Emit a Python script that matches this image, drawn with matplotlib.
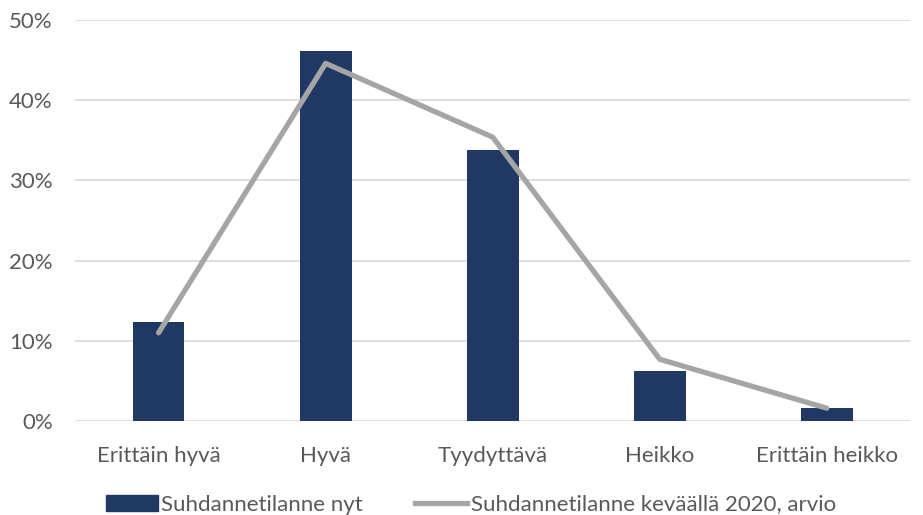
import matplotlib.pyplot as plt
from matplotlib.ticker import PercentFormatter
from matplotlib.lines import Line2D
from matplotlib.patches import Patch

plt.rcParams['font.family'] = ['Lato', 'DejaVu Sans']

kategoriat = ["Erittäin hyvä", "Hyvä", "Tyydyttävä", "Heikko", "Erittäin heikko"]
nyt = [12.3, 46.1, 33.8, 6.2, 1.6]
arvio = [11.0, 44.6, 35.4, 7.7, 1.6]

fig = plt.figure(figsize=(9.23, 5.15), dpi=100)
ax = fig.add_axes([0.0813, 0.1825, 0.905, 0.7785])

x = range(len(kategoriat))
ax.bar(x, nyt, width=0.31, color="#1F3864", zorder=2)
ax.plot(x, arvio, color="#A5A5A5", linewidth=3.8, solid_capstyle="round", zorder=3)

ax.set_xlim(-0.5, len(kategoriat) - 0.5)
ax.set_ylim(0, 50)
ax.set_yticks(range(0, 51, 10))
ax.yaxis.set_major_formatter(PercentFormatter(decimals=0))
ax.set_xticks(list(x))
ax.set_xticklabels(kategoriat)
ax.grid(axis="y", color="#D9D9D9", linewidth=1.2, zorder=0)
for s in ax.spines.values():
    s.set_visible(False)
ax.tick_params(length=0, labelsize=16, labelcolor="#595959")
ax.tick_params(axis="x", pad=18)
ax.tick_params(axis="y", pad=16)

kahvat = [Patch(color="#1F3864"), Line2D([], [], color="#A5A5A5", linewidth=3.8)]
fig.legend(kahvat, ["Suhdannetilanne nyt", "Suhdannetilanne keväällä 2020, arvio"],
           loc="lower center", bbox_to_anchor=(0.51, -0.038), ncol=2, frameon=False,
           fontsize=16, labelcolor="#595959", handlelength=2.35, handleheight=0.7,
           handletextpad=0.15, columnspacing=2.35)

fig.savefig("out.png", dpi=100)
